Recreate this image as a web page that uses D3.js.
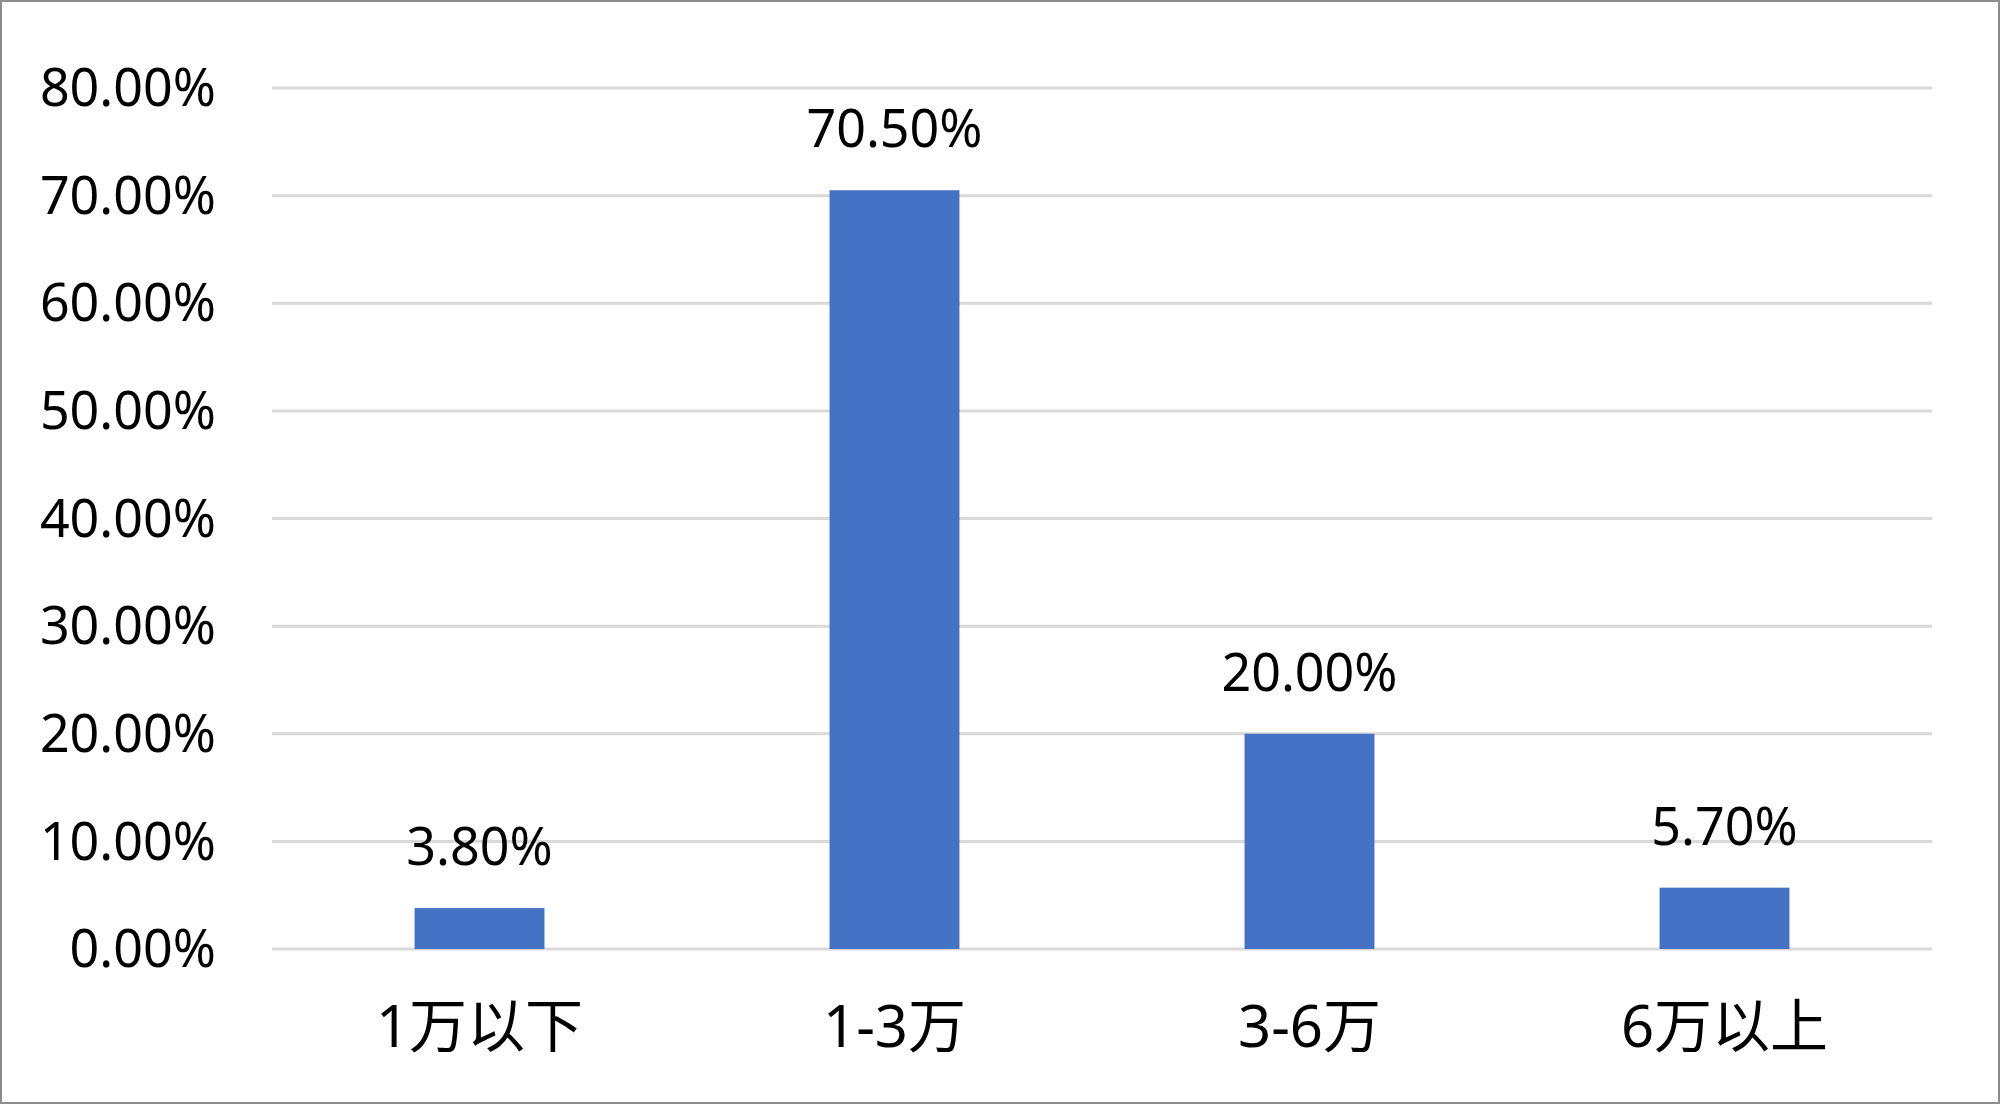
<!DOCTYPE html>
<meta charset="utf-8">
<script src="https://d3js.org/d3.v7.min.js"></script>
<style>
  body { margin: 0; background: #fff; }
  text { font-family: "Noto Sans", "Noto Sans CJK SC", sans-serif; fill: #000; }
</style>
<div id="chart"></div>
<script>
  // data
  var categories = ["1万以下", "1-3万", "3-6万", "6万以上"];
  var values = [0.038, 0.705, 0.20, 0.057];
  var valueLabels = ["3.80%", "70.50%", "20.00%", "5.70%"];
  var yTicks = [0, 0.1, 0.2, 0.3, 0.4, 0.5, 0.6, 0.7, 0.8];

  var W = 2000, H = 1104;
  var plot = { left: 272, right: 1932, top: 88, bottom: 949 };

  var svg = d3.select("#chart").append("svg")
      .attr("width", W)
      .attr("height", H);

  svg.append("rect")
      .attr("x", 1).attr("y", 1)
      .attr("width", W - 2).attr("height", H - 2)
      .attr("fill", "#fff")
      .attr("stroke", "#8c8c8c")
      .attr("stroke-width", 2);

  var x = d3.scaleBand()
      .domain(categories)
      .range([plot.left, plot.right])
      .padding(0);

  var y = d3.scaleLinear()
      .domain([0, 0.8])
      .range([plot.bottom, plot.top]);

  var barW = x.bandwidth() * 0.313;

  // gridlines
  svg.append("g")
      .selectAll("line")
      .data(yTicks)
      .join("line")
      .attr("x1", plot.left)
      .attr("x2", plot.right)
      .attr("y1", function (d) { return y(d); })
      .attr("y2", function (d) { return y(d); })
      .attr("stroke", "#d9d9d9")
      .attr("stroke-width", 3);

  // y labels
  svg.append("g")
      .selectAll("text")
      .data(yTicks)
      .join("text")
      .attr("x", 216)
      .attr("y", function (d) { return y(d); })
      .attr("dy", "0.35em")
      .attr("text-anchor", "end")
      .style("font-size", "52px")
      .text(function (d) { return d3.format(".2%")(d); });

  // bars
  svg.append("g")
      .selectAll("rect")
      .data(values)
      .join("rect")
      .attr("x", function (d, i) { return x(categories[i]) + (x.bandwidth() - barW) / 2; })
      .attr("y", function (d) { return y(d); })
      .attr("width", barW)
      .attr("height", function (d) { return y(0) - y(d); })
      .attr("fill", "#4472c4");

  // value labels
  svg.append("g")
      .selectAll("text")
      .data(values)
      .join("text")
      .attr("x", function (d, i) { return x(categories[i]) + x.bandwidth() / 2; })
      .attr("y", function (d) { return y(d) - 43; })
      .attr("text-anchor", "middle")
      .style("font-size", "52px")
      .text(function (d, i) { return valueLabels[i]; });

  // category labels
  svg.append("g")
      .selectAll("text")
      .data(categories)
      .join("text")
      .attr("x", function (d) { return x(d) + x.bandwidth() / 2; })
      .attr("y", 1047)
      .attr("text-anchor", "middle")
      .style("font-size", "58px")
      .text(function (d) { return d; });
</script>
